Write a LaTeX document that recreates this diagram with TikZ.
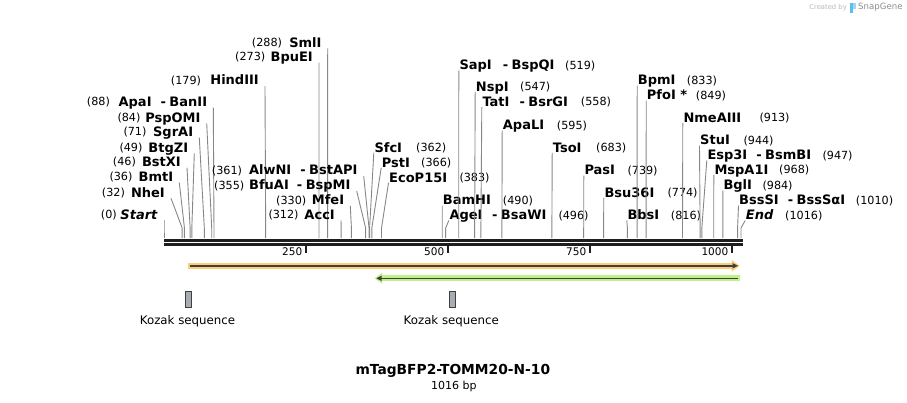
\documentclass[tikz,border=0pt]{standalone}
\usepackage{fontspec}
\setmainfont{DejaVu Sans}
\usepackage{tikz}

\definecolor{cutgray}{RGB}{135,135,135}
\definecolor{bbone}{RGB}{30,30,30}
\definecolor{featline}{RGB}{64,64,64}
\definecolor{orangeband}{RGB}{252,206,122}
\definecolor{greenband}{RGB}{190,242,136}
\definecolor{kozakfill}{RGB}{168,172,180}
\definecolor{logoblue}{RGB}{92,190,235}

\tikzset{
	enz/.style = {font=\fontsize{13}{15}\selectfont\bfseries, inner sep=0pt,
		text height=9.5pt, text depth=0pt},
	num/.style = {font=\fontsize{11.2}{13}\selectfont, inner sep=0pt, anchor=west,
		text height=8.2pt, text depth=0pt},
	cut/.style = {draw=cutgray, line width=0.9pt},
	ticklbl/.style = {font=\fontsize{10.5}{12}\selectfont, inner sep=0pt, anchor=east},
	kozak/.style = {fill=kozakfill, draw=black!75, line width=0.8pt},
	kozaklbl/.style = {font=\fontsize{11.8}{13}\selectfont, inner sep=0pt},
}

\begin{document}
\begin{tikzpicture}[x=1pt, y=-1pt]
	\useasboundingbox (0,0) rectangle (907,402);

	% enzymes labelled left of their line
	\foreach \id/\bp/\num/\nx/\name/\ex/\y in {
		start/0/(0)/100.7/\textit{Start}/158/214.3,
		nhe/32/(32)/101.7/NheI/165/192.3,
		bmt/36/(36)/109.3/BmtI/173.3/176.7,
		bstx/46/(46)/112.7/BstXI/181/161.7,
		btgz/49/(49)/119.3/BtgZI/188.3/147.3,
		sgra/71/(71)/123.3/SgrAI/193.3/131.7,
		pspo/84/(84)/117.3/PspOMI/200.7/117.3,
		apa/88/(88)/86.7/ApaI\hspace{9pt}-\hspace{3.5pt}BanII/207.3/101.7,
		hind/179/(179)/170.7/HindIII/259/80,
		bpue/273/(273)/235/BpuEI/313/56.7,
		sml/288/(288)/251.7/SmlI/321.7/42.3,
		alwn/361/(361)/211.7/AlwNI\hspace{9pt}-\hspace{3.5pt}BstAPI/357.7/170,
		bfua/355/(355)/214/BfuAI\hspace{8pt}-\hspace{3.5pt}BspMI/350.7/185,
		mfe/330/(330)/276/MfeI/344.3/200,
		acc/312/(312)/268.3/AccI/335/214.3}
	{
		\node[enz, anchor=east] (e-\id) at (\ex,\y) {\name};
		\node[num] (n-\id) at (\nx,\y) {\num};
		\coordinate (s-\id) at ({164+\bp*0.567913},238);
		\draw[cut] ([xshift=6pt,yshift=-6pt]e-\id.east) -- ([yshift=10pt]s-\id) -- (s-\id);
	}

	% enzymes labelled right of their line
	\foreach \id/\bp/\name/\nx/\num/\mx/\y in {
		sfc/362/SfcI/374.3/(362)/416/147.3,
		pst/366/PstI/381.7/(366)/421/162.3,
		ecop/383/EcoP15I/389/(383)/459.3/177.3,
		bamh/490/BamHI/442.7/(490)/502.7/200,
		age/496/AgeI\hspace{9.5pt}-\hspace{3.5pt}BsaWI/449.3/(496)/558.3/215,
		sap/519/SapI\hspace{11pt}-\hspace{3.5pt}BspQI/459.3/(519)/565/65,
		nsp/547/NspI/475.7/(547)/520/86.7,
		tat/558/TatI\hspace{10pt}-\hspace{3.5pt}BsrGI/482.3/(558)/580.7/101.7,
		apal/595/ApaLI/502.7/(595)/556.7/125,
		tso/683/TsoI/552.7/(683)/596/147.3,
		pas/739/PasI/584.3/(739)/627.3/170,
		bsu/774/Bsu36I/604.3/(774)/667.3/192.3,
		bbs/816/BbsI/627.3/(816)/670.7/215,
		bpm/833/BpmI/637.7/(833)/686.7/80,
		pfo/849/PfoI *{}/646.7/(849)/695.7/95,
		nme/913/NmeAIII/683.3/(913)/759.3/117.3,
		stu/944/StuI/700/(944)/743.3/140,
		esp/947/Esp3I\hspace{9pt}-\hspace{3.5pt}BsmBI/707.3/(947)/822.3/155,
		mspa/968/MspA1I/714.3/(968)/779/169.3,
		bgl/984/BglI/723.3/(984)/762.3/185,
		bsss/1010/BssSI\hspace{9pt}-\hspace{3.5pt}BssSαI/739/(1010)/855.7/200,
		end/1016/\textit{End}/745.7/(1016)/785/215}
	{
		\node[enz, anchor=west] (e-\id) at (\nx,\y) {\name};
		\node[num] (n-\id) at (\mx,\y) {\num};
		\coordinate (s-\id) at ({164+\bp*0.567913},238);
		\draw[cut] ([xshift=-0.5pt,yshift=-5.5pt]e-\id.west) -- ([yshift=10pt]s-\id) -- (s-\id);
	}

	% backbone and ruler
	\draw[bbone, line width=2.5pt] (164,240.5) -- (742.5,240.5);
	\draw[bbone, line width=2.5pt] (164,244.5) -- (742.5,244.5);
	\foreach \t in {250,500,750,1000} {
		\draw[bbone, line width=2pt] ({164+\t*0.567913},245.5) -- ({164+\t*0.567913},252.5);
		\node[ticklbl] (t-\t) at ({160.5+\t*0.567913},251.7) {\t};
	}

	% features
	\fill[orangeband] (188.3,262.8) rectangle (732,268.8);
	\fill[orangeband] (731.5,259.8) -- (739.8,265.8) -- (731.5,271.8) -- cycle;
	\draw[featline, line width=1.4pt] (189.5,265.8) -- (733,265.8);
	\fill[featline] (732.5,263) -- (738,265.8) -- (732.5,268.6) -- cycle;

	\fill[greenband] (381.5,275.35) rectangle (740,281.35);
	\fill[greenband] (382,272.9) -- (374.7,278.35) -- (382,283.8) -- cycle;
	\draw[featline, line width=1.4pt] (381,278.35) -- (738.3,278.35);
	\fill[featline] (381.7,275.6) -- (376.3,278.35) -- (381.7,281.1) -- cycle;

	\draw[kozak] (185,291) rectangle (191.7,307.3);
	\draw[kozak] (449.3,291) rectangle (455,307.3);
	\node[kozaklbl] (koz1) at (187.5,321) {Kozak sequence};
	\node[kozaklbl] (koz2) at (451.3,321) {Kozak sequence};

	% title
	\node[font=\fontsize{13.8}{16}\selectfont\bfseries, inner sep=0pt] (title) at (452.8,371) {mTagBFP2-TOMM20-N-10};
	\node[font=\fontsize{11}{13}\selectfont, inner sep=0pt] (len) at (453.8,386.7) {1016 bp};

	% watermark
	\node[font=\fontsize{6.8}{8}\selectfont, text=black!28, inner sep=0pt, anchor=east] (made) at (847,7.5) {Created by};
	\fill[logoblue] (850,3) rectangle (852.6,13);
	\fill[logoblue!60] (852.6,3) rectangle (855.6,8.5);
	\node[font=\fontsize{8.6}{10}\selectfont, text=black!45, inner sep=0pt, anchor=west] (snap) at (858,7.5) {SnapGene};
\end{tikzpicture}
\end{document}
